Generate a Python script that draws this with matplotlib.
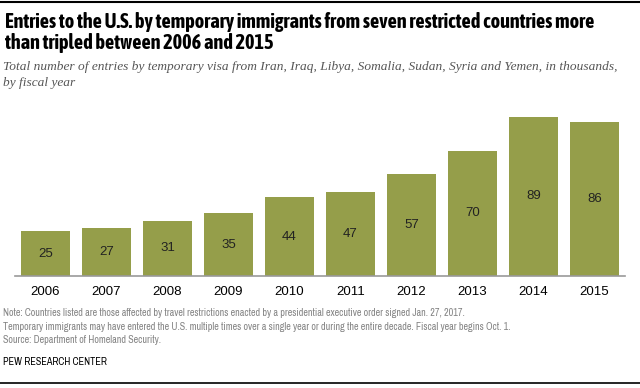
import matplotlib
matplotlib.use("Agg")
import matplotlib.pyplot as plt
from matplotlib.lines import Line2D

years = ['2006', '2007', '2008', '2009', '2010', '2011', '2012', '2013', '2014', '2015']
entries = [25, 27, 31, 35, 44, 47, 57, 70, 89, 86]

bar_color = '#959e4a'
title_font = ['Asap Condensed', 'Barlow Condensed', 'Liberation Sans', 'DejaVu Sans']
narrow = ['Archivo Narrow', 'Liberation Sans', 'DejaVu Sans']
serif = ['Liberation Serif', 'DejaVu Serif']

W, H = 640, 388
fig = plt.figure(figsize=(W / 100, H / 100), dpi=100)

# axes placed in pixel coordinates
left, right, bottom, top = 15, 625, 276, 106
ax = fig.add_axes([left / W, 1 - bottom / H, (right - left) / W, (bottom - top) / H])

x = list(range(len(years)))
ax.bar(x, entries, width=0.79, color=bar_color)
for xi, v in zip(x, entries):
    ax.text(xi, v / 2, str(v), ha='center', va='center', fontsize=9.5,
            color='#222222', family=['Liberation Sans', 'DejaVu Sans'])

ax.set_xlim(-0.5, len(years) - 0.5)
ax.set_ylim(0, 95)
ax.set_yticks([])
ax.set_xticks(x)
ax.set_xticklabels(years, fontsize=9.5, family=['Liberation Sans', 'DejaVu Sans'])
ax.tick_params(axis='x', length=0, pad=7)
for s in ['top', 'right', 'left']:
    ax.spines[s].set_visible(False)
ax.spines['bottom'].set_color('#999999')
ax.spines['bottom'].set_linewidth(1.2)

def fy(py):
    return 1 - py / H

fig.text(5 / W, fy(22), 'Entries to the U.S. by temporary immigrants from seven restricted countries more',
         fontsize=14.6, fontweight='bold', va='center', family=title_font)
fig.text(5 / W, fy(43), 'than tripled between 2006 and 2015',
         fontsize=14.6, fontweight='bold', va='center', family=title_font)
fig.text(3 / W, fy(67), 'Total number of entries by temporary visa from Iran, Iraq, Libya, Somalia, Sudan, Syria and Yemen, in thousands,',
         fontsize=9.6, style='italic', color='#555555', va='center', family=serif)
fig.text(3 / W, fy(83), 'by fiscal year',
         fontsize=9.6, style='italic', color='#555555', va='center', family=serif)

notes = ['Note: Countries listed are those affected by travel restrictions enacted by a presidential executive order signed Jan. 27, 2017.',
         'Temporary immigrants may have entered the U.S. multiple times over a single year or during the entire decade. Fiscal year begins Oct. 1.',
         'Source: Department of Homeland Security.']
for i, line in enumerate(notes):
    fig.text(3 / W, fy(313 + i * 13.5), line, fontsize=7.3, color='#848484', va='center', family=narrow)
fig.text(3 / W, fy(362), 'PEW RESEARCH CENTER', fontsize=7.3, color='#000000', va='center', family=narrow)

fig.add_artist(Line2D([0, 1], [fy(2), fy(2)], color='black', lw=1.5, transform=fig.transFigure))
fig.add_artist(Line2D([0, 1], [fy(383), fy(383)], color='black', lw=1.2, transform=fig.transFigure))

fig.savefig('out.png', dpi=100)
